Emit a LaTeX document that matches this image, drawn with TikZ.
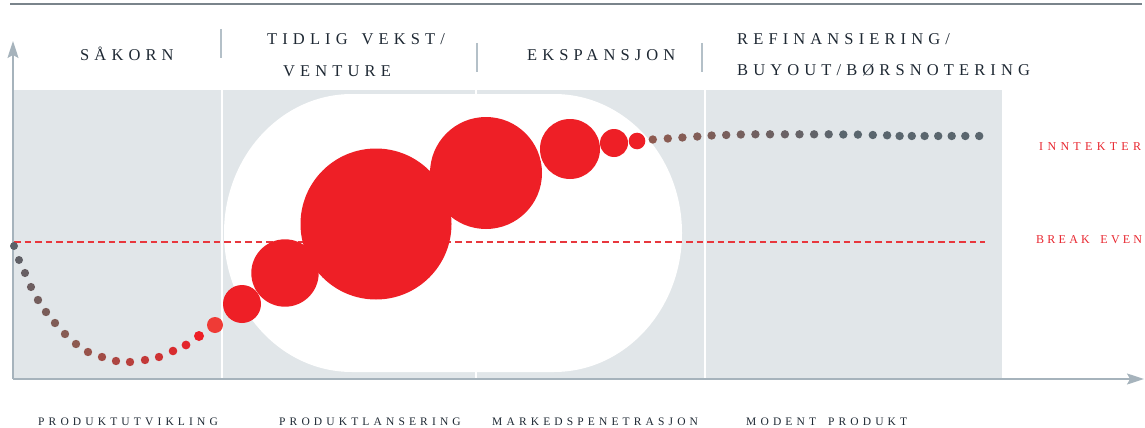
\documentclass[tikz,border=0pt]{standalone}
\usepackage{fontspec}
\setmainfont{Liberation Serif}
\newfontfamily\headfont[LetterSpace=31, WordSpace=1.5]{Liberation Serif}
\newfontfamily\tagfont[LetterSpace=36, WordSpace=1.7]{Liberation Serif}
\newfontfamily\tightfont[LetterSpace=27, WordSpace=1.7]{Liberation Serif}
\usetikzlibrary{arrows.meta}

\definecolor{ink}{HTML}{1E2833}
\definecolor{rulegray}{HTML}{7A848B}
\definecolor{axisgray}{HTML}{A6B3BC}
\definecolor{sepgray}{HTML}{B4C0C8}
\definecolor{panel}{HTML}{E1E6E9}
\definecolor{bubblered}{HTML}{EE1F26}
\definecolor{dashred}{HTML}{E8373D}
\definecolor{labelred}{HTML}{E8262F}
\definecolor{slate}{HTML}{5A6169}
\definecolor{slateend}{HTML}{5A666E}
\definecolor{rust}{HTML}{8D5A50}
\definecolor{brightdot}{HTML}{EF3B36}

\tikzset{
  headtext/.style={font={\headfont\fontsize{16.5}{18}\selectfont}, text=ink, inner sep=0pt, anchor=base west},
  phasetext/.style={font={\tagfont\fontsize{11.5}{13}\selectfont}, text=ink, inner sep=0pt, anchor=base west},
  sidetext/.style={font={\tagfont\fontsize{12}{14}\selectfont}, text=labelred, inner sep=0pt, anchor=base west},
  axisline/.style={draw=axisgray, line width=1.5pt, -{Stealth[length=17pt,width=11pt,inset=3pt]}},
  headsep/.style={draw=sepgray, line width=1.3pt},
  lanesep/.style={draw=white, line width=1.6pt},
  bubble/.style={fill=bubblered},
}

\begin{document}
\begin{tikzpicture}[x=1pt,y=-1pt]
\useasboundingbox (0,0) rectangle (1145,428);

% rule along the top edge
\draw[rulegray, line width=2pt] (10,4.5) -- (1142,4.5);

% chart panel and lane separators
\fill[panel] (13,90) rectangle (1002,379);
\draw[lanesep] (222,90) -- (222,379);
\draw[lanesep] (476,90) -- (476,379);
\draw[lanesep] (705,90) -- (705,379);

% white rounded field behind the growth bubbles
\fill[white] (352,94) -- (554,94)
  arc[start angle=-90, end angle=90, x radius=128, y radius=139]
  -- (352,372)
  arc[start angle=90, end angle=270, x radius=128, y radius=139] -- cycle;

% axes
\coordinate (origin) at (13,379);
\coordinate (ytip) at (13,41);
\coordinate (xtip) at (1144,379);
\draw[axisline] (origin) -- (ytip);
\draw[axisline] (origin) -- (xtip);

% break-even line
\coordinate (be0) at (14,242);
\coordinate (be1) at (985,242);
\draw[dashred, line width=1.1pt, dash pattern=on 6.5pt off 4pt] (be0) -- (be1);

% development phase: dots dipping below break-even
\foreach \x/\y/\r [count=\i from 0] in {
  14/246/4, 19/260/4, 25/273/4.1, 31/287/4.1, 38/300/4.2, 46/312/4.2,
  55/323/4.2, 65/334/4.2, 76/344/4.2, 88/352/4.2, 102/357/4.2, 116/361/4.2,
  130/362/4.2, 145/360/4.2, 159/357/4.2, 173/351/4.3, 186/345/4.4, 199/336/5}{
  \ifnum\i<9
    \pgfmathsetmacro\mixv{100*\i/8}
    \fill[rust!\mixv!slate] (\x,\y) circle[radius=\r];
  \else
    \pgfmathsetmacro\mixv{100*(\i-8)/9}
    \fill[bubblered!\mixv!rust] (\x,\y) circle[radius=\r];
  \fi
}
\fill[brightdot] (215,325) circle[radius=8];

% growth bubbles
\fill[bubble] (242,304) circle[radius=19];
\fill[bubble] (285,273) circle[radius=33.7];
\fill[bubble] (376,224) circle[radius=75.5];
\fill[bubble] (486,173) circle[radius=56];
\fill[bubble] (570,149) circle[radius=30];
\fill[bubble] (614,143) circle[radius=14];
\fill[bubble] (637,141) circle[radius=8.3];

% mature phase: revenue levelling off
\foreach \x/\y [count=\i from 0] in {
  652.8/139.5, 667.8/138.5, 682.4/137.5, 697.3/136.5, 711.6/135.5, 726.2/135,
  740.8/134.5, 755.4/134.3, 770/134.3, 784.9/134.3, 799.5/134.3, 814.1/134.3,
  828.7/134.3, 843.3/134.5, 857.9/134.6, 872.8/135, 887.1/135.3, 899.6/136,
  911.8/136, 924.6/136, 938.2/136, 951.7/136, 965.3/136, 979.2/136}{
  \pgfmathsetmacro\mixv{min(100,100*\i/13)}
  \fill[slateend!\mixv!rust] (\x,\y) circle[radius=4.2];
}

% header separators
\draw[headsep] (221,29) -- (221,58);
\draw[headsep] (477,43) -- (477,72);
\draw[headsep] (702,43) -- (702,72);

% financing stages
\node[headtext] (seed) at (80,60) {SÅKORN};
\node[headtext] (early1) at (267,44.5) {TIDLIG VEKST/};
\node[headtext] (early2) at (283,76) {VENTURE};
\node[headtext] (expansion) at (527,60) {EKSPANSJON};
\node[headtext] (refi1) at (737,44.5) {REFINANSIERING/};
\node[headtext] (refi2) at (737,75.5) {BUYOUT/BØRSNOTERING};

% side labels
\node[sidetext] (revenue) at (1039,150.5) {INNTEKTER};
\node[sidetext, font={\tightfont\fontsize{12}{14}\selectfont}] (breakeven) at (1036,243) {BREAK EVEN};

% product phases
\node[phasetext] (ph1) at (38,425.5) {PRODUKTUTVIKLING};
\node[phasetext] (ph2) at (279,425.5) {PRODUKTLANSERING};
\node[phasetext] (ph3) at (492,425.5) {MARKEDSPENETRASJON};
\node[phasetext] (ph4) at (746,425.5) {MODENT PRODUKT};
\end{tikzpicture}
\end{document}
